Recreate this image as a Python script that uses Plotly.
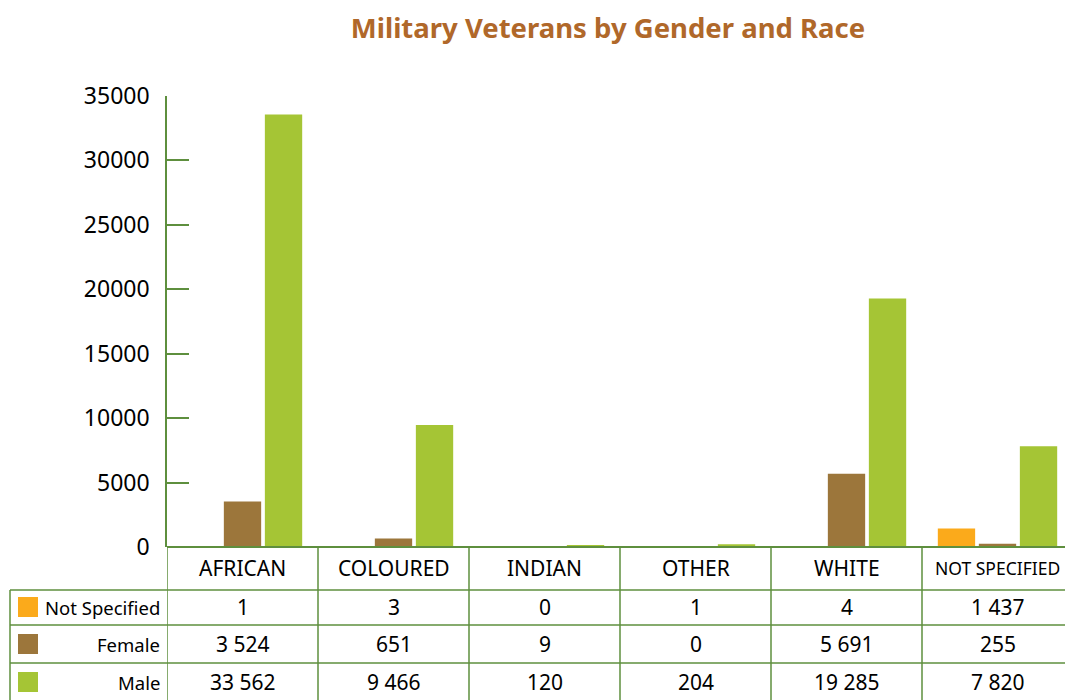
import plotly.graph_objects as go

categories = ["AFRICAN", "COLOURED", "INDIAN", "OTHER", "WHITE", "NOT SPECIFIED"]
series_names = ["Not Specified", "Female", "Male"]
not_specified = [1, 3, 0, 1, 4, 1437]
female = [3524, 651, 9, 0, 5691, 255]
male = [33562, 9466, 120, 204, 19285, 7820]
y_ticks = [0, 5000, 10000, 15000, 20000, 25000, 30000, 35000]

colors = ["#FBAA1B", "#9C763B", "#A5C535"]
line_green = "#5E8F3E"
FONT = "Noto Sans"

W, H = 1065, 700
ML, MR, MT, MB = 167, 0, 96, 700 - 547
PW = W - ML - MR
PH = H - MT - MB

def xp(px):
    return (px - ML) / PW

def yp(py):
    return (547 - py) / PH

series_values = [not_specified, female, male]

fig = go.Figure()
for name, vals, col in zip(series_names, series_values, colors):
    fig.add_trace(go.Bar(x=list(range(len(categories))), y=vals, name=name,
                         marker=dict(color=col, line=dict(width=0)), showlegend=False))

fig.update_layout(
    width=W, height=H,
    margin=dict(l=ML, r=MR, t=MT, b=MB, pad=0),
    paper_bgcolor="white", plot_bgcolor="white",
    barmode="group", bargap=0.185, bargroupgap=0.09,
    title=dict(text="<b>Military Veterans by Gender and Race</b>",
               x=608 / W, xanchor="center", y=1 - 28 / H, yanchor="middle",
               font=dict(family=FONT, size=27.5, color="#B0682A")),
    font=dict(family=FONT, color="black"),
    xaxis=dict(range=[-0.5, -0.5 + PW / 151.0], showticklabels=False, ticks="",
               showgrid=False, zeroline=False, showline=False, fixedrange=True),
    yaxis=dict(range=[0, 35000], tickvals=y_ticks, tickformat="d",
               ticks="inside", ticklen=22, tickwidth=1.5, tickcolor=line_green,
               showline=True, linecolor=line_green, linewidth=1.5,
               showgrid=False, zeroline=False, ticklabelstandoff=11,
               tickfont=dict(family=FONT, size=23, color="black")),
)

shapes = []
annotations = []
row_bounds = [547, 590, 625, 663, 700]

shapes.append(dict(type="line", xref="paper", yref="paper", x0=0, x1=1,
                   y0=yp(547), y1=yp(547), line=dict(color=line_green, width=2)))
for yb in row_bounds[1:4]:
    shapes.append(dict(type="line", xref="paper", yref="paper", x0=xp(10), x1=1,
                       y0=yp(yb), y1=yp(yb), line=dict(color=line_green, width=1.5)))
for i in range(len(categories)):
    shapes.append(dict(type="line", xref="x", yref="paper", x0=i - 0.5, x1=i - 0.5,
                       y0=yp(547), y1=yp(700), line=dict(color=line_green, width=1.5)))
shapes.append(dict(type="line", xref="paper", yref="paper", x0=xp(10), x1=xp(10),
                   y0=yp(590), y1=yp(700), line=dict(color=line_green, width=1.5)))

for i, c in enumerate(categories):
    annotations.append(dict(x=i, y=yp(568), xref="x", yref="paper", text=c,
                            showarrow=False, xanchor="center", yanchor="middle",
                            font=dict(family=FONT, size=17.5 if len(c) > 10 else 21, color="black")))

def fmt(v):
    return f"{v:,}".replace(",", " ")

row_centers = [607, 644, 682]
for r, (name, vals, col) in enumerate(zip(series_names, series_values, colors)):
    cy = row_centers[r]
    shapes.append(dict(type="rect", xref="paper", yref="paper", x0=xp(18), x1=xp(38),
                       y0=yp(cy - 10), y1=yp(cy + 10), fillcolor=col, line=dict(width=0)))
    annotations.append(dict(x=xp(162), y=yp(cy), xref="paper", yref="paper", text=name,
                            showarrow=False, xanchor="right", yanchor="middle",
                            font=dict(family=FONT, size=18.5, color="black")))
    for i, v in enumerate(vals):
        annotations.append(dict(x=i, y=yp(cy), xref="x", yref="paper", text=fmt(v),
                                showarrow=False, xanchor="center", yanchor="middle",
                                font=dict(family=FONT, size=21, color="black")))

fig.update_layout(shapes=shapes, annotations=annotations)
fig.write_html("out.html", config={"displayModeBar": False},
               post_script="document.body.style.margin='0';document.body.style.overflow='hidden';")
